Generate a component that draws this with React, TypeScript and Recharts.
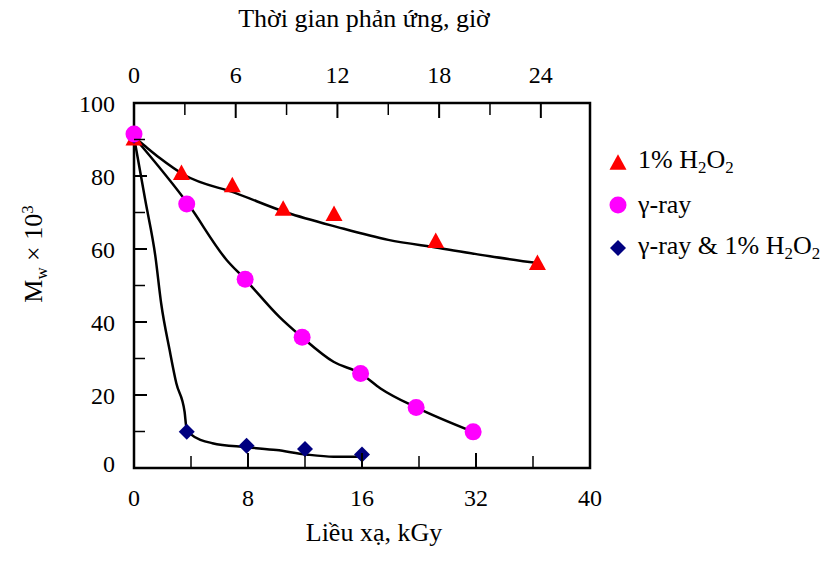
import React from "react";
import { ComposedChart, XAxis, YAxis, Scatter, Line, ReferenceArea } from "recharts";

const FONT = "Liberation Serif, Tinos, Times New Roman, DejaVu Serif, serif";

// top axis: reaction time (hours)
const timeTicks = [0, 3, 6, 9, 12, 15, 18, 21, 24];
const timeTickLabels = ["0", "", "6", "", "12", "", "18", "", "24"];
// bottom axis: dose (kGy) – labels as printed in the original figure
const doseTicks = [0, 4, 8, 12, 16, 20, 24, 28, 32];
const doseTickLabels = ["0", "", "8", "", "16", "", "32", "", "40"];
const mwTicks = [0, 10, 20, 30, 40, 50, 60, 70, 80, 90, 100];
const mwTickLabels = ["0", "", "20", "", "40", "", "60", "", "80", "", "100"];

// 1% H2O2 (vs. time)
const h2o2Hours = [0, 2.8, 5.8, 8.8, 11.8, 17.8, 23.8];
const h2o2Mw = [90.5, 81, 77.7, 71.2, 69.8, 62.4, 56.4];
const h2o2FitHours = [0, 0.7, 1.5, 3, 6, 9, 12, 15, 18, 21, 24];
const h2o2FitMw = [90.7, 88, 85, 80.2, 75.3, 70, 66, 62.5, 60.3, 58, 56];

// gamma-ray (vs. dose)
const gammaDose = [0, 3.7, 7.8, 11.8, 15.9, 19.8, 23.8];
const gammaMw = [91.5, 72.3, 51.7, 35.8, 25.9, 16.6, 9.9];
const gammaFitDose = [0, 3.8, 6.5, 7.8, 10.2, 11.8, 14, 15.9, 17.3, 19.8, 23.8];
const gammaFitMw = [90.7, 72.3, 57, 51.7, 41.4, 35.8, 29.1, 25.9, 21.8, 16.6, 9.9];

// gamma-ray & 1% H2O2 (vs. dose)
const comboDose = [0, 3.7, 7.9, 12.0, 16.0];
const comboMw = [91, 9.9, 6.1, 5.2, 3.7];
const comboFitDose = [0, 0.79, 1.5, 1.91, 2.5, 2.97, 3.55, 3.67, 3.9, 5.5, 7.9, 10, 12.1, 14, 16.1];
const comboFitMw = [90.7, 73.4, 58, 45, 32.3, 23.2, 15.4, 11.3, 9.5, 6.8, 5.7, 4.9, 3.7, 3.1, 3.1];

const toPoints = (xs: number[], ys: number[]) => xs.map((x, i) => ({ x, y: ys[i] }));

const RED = "#ff0000";
const MAGENTA = "#ff00ff";
const NAVY = "#000080";

function Triangle({ cx, cy, fill }: { cx: number; cy: number; fill: string }) {
  const w = 17;
  const h = 15.5;
  return (
    <polygon
      points={`${cx},${cy - h / 2} ${cx - w / 2},${cy + h / 2} ${cx + w / 2},${cy + h / 2}`}
      fill={fill}
    />
  );
}

function Diamond({ cx, cy, fill }: { cx: number; cy: number; fill: string }) {
  const r = 8;
  return (
    <polygon points={`${cx},${cy - r} ${cx + r},${cy} ${cx},${cy + r} ${cx - r},${cy}`} fill={fill} />
  );
}

function Dot({ cx, cy, fill }: { cx: number; cy: number; fill: string }) {
  return <circle cx={cx} cy={cy} r={8.5} fill={fill} />;
}

const tickText = { fontFamily: FONT, fontSize: 24, fill: "#000" };

// ticks point inward; tickSize/tickMargin are 0 so x/y sit on the axis itself
function LeftTick(props: any) {
  const { x, y, index } = props;
  const label = mwTickLabels[index];
  const major = label !== "";
  const last = index === mwTicks.length - 1;
  const dy = index === 0 ? 4 : 8.5;
  return (
    <g>
      {index > 0 && !last && (
        <line x1={x} x2={x + (major ? 13 : 11)} y1={y} y2={y} stroke="#000" strokeWidth={major ? 2 : 1.5} />
      )}
      {major && (
        <text x={x - 19} y={y + dy} textAnchor="end" style={tickText}>
          {label}
        </text>
      )}
    </g>
  );
}

function TopTick(props: any) {
  const { x, y, index } = props;
  const label = timeTickLabels[index];
  const major = label !== "";
  return (
    <g>
      {index > 0 && (
        <line x1={x} x2={x} y1={y} y2={y + (major ? 15 : 12)} stroke="#000" strokeWidth={major ? 2 : 1.5} />
      )}
      {major && (
        <text x={x} y={y - 20} textAnchor="middle" style={tickText}>
          {label}
        </text>
      )}
    </g>
  );
}

function BottomTick(props: any) {
  const { x, y, index } = props;
  const label = doseTickLabels[index];
  const major = label !== "";
  const last = index === doseTicks.length - 1;
  return (
    <g>
      {index > 0 && !last && (
        <line x1={x} x2={x} y1={y} y2={y - (major ? 15 : 12)} stroke="#000" strokeWidth={major ? 2 : 1.5} />
      )}
      {major && (
        <text x={x} y={y + 38} textAnchor="middle" style={tickText}>
          {label}
        </text>
      )}
    </g>
  );
}

const sub = { fontSize: "0.65em", verticalAlign: "-0.3em" } as const;
const sup = { fontSize: "0.65em", verticalAlign: "0.55em" } as const;

function LegendRow({ marker, children }: { marker: React.ReactNode; children: React.ReactNode }) {
  return (
    <div style={{ display: "flex", alignItems: "center", height: 43 }}>
      <svg width={20} height={20} style={{ marginRight: 10, flex: "none" }}>
        {marker}
      </svg>
      <span style={{ whiteSpace: "nowrap" }}>{children}</span>
    </div>
  );
}

export default function App() {
  return (
    <div
      style={{
        position: "absolute",
        left: 0,
        top: 0,
        width: 827,
        height: 567,
        background: "#fff",
        fontFamily: FONT,
        color: "#000",
      }}
    >
      <ComposedChart width={827} height={567} margin={{ top: 63, right: 237, bottom: 39, left: 74 }}>
        <XAxis
          xAxisId="dose"
          type="number"
          dataKey="x"
          orientation="bottom"
          domain={[0, 32]}
          ticks={doseTicks}
          height={60}
          axisLine={false}
          tickLine={false}
          tickSize={0}
          tickMargin={0}
          tick={<BottomTick />}
          interval={0}
        />
        <XAxis
          xAxisId="time"
          type="number"
          dataKey="x"
          orientation="top"
          domain={[0, 26.9]}
          ticks={timeTicks}
          height={40}
          axisLine={false}
          tickLine={false}
          tickSize={0}
          tickMargin={0}
          tick={<TopTick />}
          interval={0}
        />
        <YAxis
          yAxisId="mw"
          type="number"
          domain={[0, 100]}
          ticks={mwTicks}
          width={60}
          axisLine={false}
          tickLine={false}
          tickSize={0}
          tickMargin={0}
          tick={<LeftTick />}
          interval={0}
        />
        {/* plot frame */}
        <ReferenceArea
          xAxisId="dose"
          yAxisId="mw"
          x1={0}
          x2={32}
          y1={0}
          y2={100}
          fill="none"
          stroke="#000"
          strokeWidth={2.5}
          ifOverflow="visible"
        />
        <Scatter
          name="1% H2O2"
          xAxisId="time"
          yAxisId="mw"
          data={toPoints(h2o2Hours, h2o2Mw)}
          dataKey="y"
          fill={RED}
          shape={(p: any) => <Triangle cx={p.cx} cy={p.cy} fill={RED} />}
          isAnimationActive={false}
        />
        <Scatter
          name="γ-ray & 1% H2O2"
          xAxisId="dose"
          yAxisId="mw"
          data={toPoints(comboDose, comboMw)}
          dataKey="y"
          fill={NAVY}
          shape={(p: any) => <Diamond cx={p.cx} cy={p.cy} fill={NAVY} />}
          isAnimationActive={false}
        />
        <Line
          xAxisId="time"
          yAxisId="mw"
          data={toPoints(h2o2FitHours, h2o2FitMw)}
          dataKey="y"
          type="monotone"
          stroke="#000"
          strokeWidth={2.5}
          dot={false}
          activeDot={false}
          legendType="none"
          isAnimationActive={false}
        />
        <Line
          xAxisId="dose"
          yAxisId="mw"
          data={toPoints(gammaFitDose, gammaFitMw)}
          dataKey="y"
          type="monotone"
          stroke="#000"
          strokeWidth={2.5}
          dot={false}
          activeDot={false}
          legendType="none"
          isAnimationActive={false}
        />
        <Line
          xAxisId="dose"
          yAxisId="mw"
          data={toPoints(comboFitDose, comboFitMw)}
          dataKey="y"
          type="monotone"
          stroke="#000"
          strokeWidth={2.5}
          dot={false}
          activeDot={false}
          legendType="none"
          isAnimationActive={false}
        />
        <Scatter
          name="γ-ray"
          xAxisId="dose"
          yAxisId="mw"
          data={toPoints(gammaDose, gammaMw)}
          dataKey="y"
          fill={MAGENTA}
          shape={(p: any) => <Dot cx={p.cx} cy={p.cy} fill={MAGENTA} />}
          isAnimationActive={false}
        />
      </ComposedChart>

      {/* axis titles */}
      <div
        style={{
          position: "absolute",
          left: 164,
          top: 6,
          width: 400,
          textAlign: "center",
          fontSize: 26,
          lineHeight: "26px",
          whiteSpace: "nowrap",
        }}
      >
        Thời gian phản ứng, giờ
      </div>
      <div
        style={{
          position: "absolute",
          left: 174,
          top: 520,
          width: 400,
          textAlign: "center",
          fontSize: 26,
          lineHeight: "26px",
          whiteSpace: "nowrap",
        }}
      >
        Liều xạ, kGy
      </div>
      <div
        style={{
          position: "absolute",
          left: 28 - 100,
          top: 254 - 15,
          width: 200,
          height: 30,
          lineHeight: "30px",
          textAlign: "center",
          fontSize: 26,
          whiteSpace: "nowrap",
          transform: "rotate(-90deg)",
        }}
      >
        M<span style={sub}>w</span> × 10<span style={sup}>3</span>
      </div>

      {/* legend */}
      <div style={{ position: "absolute", left: 608, top: 140, fontSize: 26 }}>
        <LegendRow marker={<Triangle cx={10} cy={10} fill={RED} />}>
          1% H<span style={sub}>2</span>O<span style={sub}>2</span>
        </LegendRow>
        <LegendRow marker={<Dot cx={10} cy={10} fill={MAGENTA} />}>γ-ray</LegendRow>
        <LegendRow marker={<Diamond cx={10} cy={10} fill={NAVY} />}>
          γ-ray &amp; 1% H<span style={sub}>2</span>O<span style={sub}>2</span>
        </LegendRow>
      </div>
    </div>
  );
}
